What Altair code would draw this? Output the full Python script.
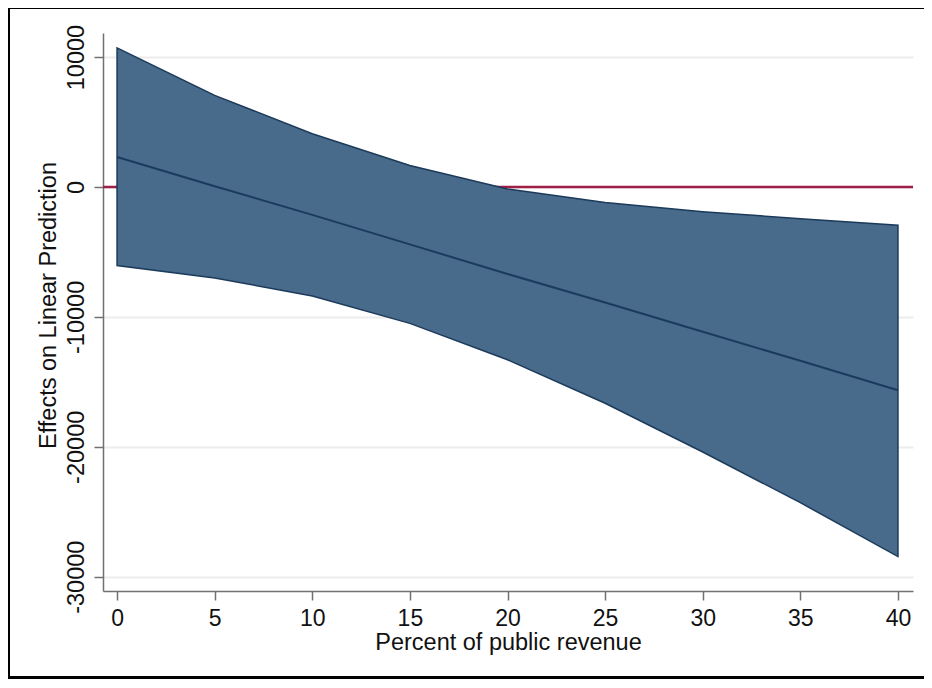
import altair as alt
import pandas as pd

# Data
pct = [0, 5, 10, 15, 20, 25, 30, 35, 40]
upper = [10700, 7050, 4100, 1650, -150, -1200, -1900, -2450, -2950]
lower = [-6050, -7000, -8400, -10500, -13300, -16650, -20400, -24300, -28450]
fit = [2300, 60, -2150, -4420, -6700, -8900, -11150, -13380, -15650]
y_ticks = [-30000, -20000, -10000, 0, 10000]
x_ticks = [0, 5, 10, 15, 20, 25, 30, 35, 40]

df = pd.DataFrame({"pct": pct, "upper": upper, "lower": lower, "fit": fit})

W, H = 810, 558
FONT = "Liberation Sans"

xs = alt.Scale(domain=[-0.72, 40.77], nice=False, zero=False)
ys = alt.Scale(domain=[-31100, 11850], nice=False, zero=False)

xax = alt.Axis(
    values=x_ticks, title="Percent of public revenue", grid=False,
    labelFontSize=23, titleFontSize=23.5, labelPadding=7,
    titleBaseline="alphabetic", titleY=58, titleFontWeight="normal",
    labelExpr="'' + datum.value",
)
yax = alt.Axis(
    values=y_ticks, title="Effects on Linear Prediction", grid=True,
    labelAngle=270, labelAlign="center", labelBaseline="alphabetic",
    labelFontSize=23.5, titleFontSize=23.5, labelPadding=11,
    titleAngle=270, titleAlign="center", titleBaseline="alphabetic",
    titleX=-48, titleY=272, titleFontWeight="normal",
    labelExpr="'' + datum.value",
)

base = alt.Chart(df)

# black frame strips (left, top, bottom) outside the plot area
left_bar = base.mark_rect(color="black").encode(
    x=alt.value(-95), x2=alt.value(-93), y=alt.value(-25), y2=alt.value(646)
)
top_bar = base.mark_rect(color="black").encode(
    x=alt.value(-95), x2=alt.value(W + 11), y=alt.value(-25), y2=alt.value(-24)
)
bottom_bar = base.mark_rect(color="black").encode(
    x=alt.value(-95), x2=alt.value(W + 11), y=alt.value(643), y2=alt.value(646)
)

zero = alt.Chart(pd.DataFrame({"z": [0]})).mark_rule(color="#9e1f48", strokeWidth=2.5).encode(
    y=alt.Y("z:Q", scale=ys, axis=yax), x=alt.value(0), x2=alt.value(W)
)

band = base.mark_area(color="#486a8b", stroke="#1c3a5a", strokeWidth=1.5, opacity=1).encode(
    x=alt.X("pct:Q", scale=xs, axis=xax),
    y=alt.Y("upper:Q", scale=ys, axis=yax),
    y2="lower:Q",
)

line = base.mark_line(color="#1c3a5e", strokeWidth=2).encode(
    x=alt.X("pct:Q", scale=xs, axis=xax),
    y=alt.Y("fit:Q", scale=ys, axis=yax),
)

chart = alt.layer(left_bar, top_bar, bottom_bar, zero, band, line).properties(
    width=W, height=H,
    autosize=alt.AutoSizeParams(type="none"),
    padding={"left": 95, "top": 25, "right": 11, "bottom": 88},
    background="white",
).configure_view(stroke=None).configure_axis(
    labelFont=FONT, titleFont=FONT, labelColor="#111111", titleColor="#111111",
    domainColor="#707070", domainWidth=1.5, tickColor="#707070", tickWidth=1.5,
    tickSize=9, gridColor="#ececec", gridWidth=2,
)

chart.save("out.html", embed_options={"renderer": "svg", "actions": False})
